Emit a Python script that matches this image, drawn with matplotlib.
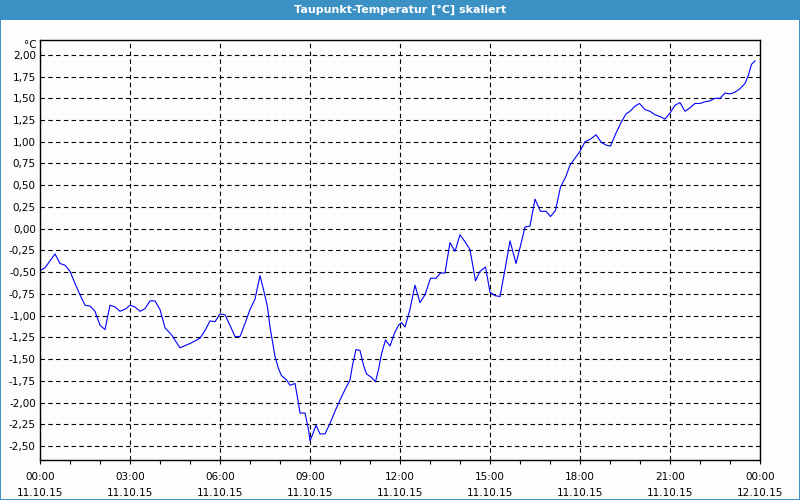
#!/usr/bin/env python3
"""
Taupunkt-Temperatur (dew point) over one day, scaled view.
"""

from datetime import datetime, timedelta
import matplotlib
matplotlib.use("Agg")
import matplotlib.pyplot as plt
import matplotlib.dates as mdates
from matplotlib.patches import Rectangle
from matplotlib.ticker import FuncFormatter, MultipleLocator

TITLE = "Taupunkt-Temperatur [°C] skaliert"
UNIT = "°C"
START = datetime(2015, 10, 11)

# minutes after midnight 11.10.15
minutes = [
    0, 10, 20, 30, 40, 50, 60, 70, 80, 90, 100, 110, 120, 130, 140, 150,
    160, 172, 180, 190, 200, 210, 220, 230, 240, 250, 263, 280, 300, 320,
    330, 340, 350, 360, 370, 383, 390, 400, 410, 420, 430, 440, 447, 455,
    460, 470, 477, 483, 493, 500, 510, 517, 520, 530, 537, 540, 545, 552,
    560, 570, 580, 590, 600, 610, 620, 625, 632, 640, 647, 653, 663, 671,
    677, 683, 691, 700, 709, 717, 723, 730, 739, 750, 760, 770, 781, 792,
    801, 810, 820, 830, 840, 850, 860, 871, 880, 891, 900, 910, 920, 930,
    940, 952, 963, 970, 980, 990, 1001, 1012, 1021, 1031, 1041, 1051, 1060,
    1070, 1080, 1090, 1101, 1112, 1123, 1133, 1141, 1152, 1163, 1172, 1180,
    1190, 1199, 1210, 1220, 1230, 1240, 1250, 1260, 1270, 1280, 1290, 1300,
    1310, 1320, 1330, 1340, 1350, 1360, 1370, 1380, 1390, 1400, 1410, 1417,
    1423, 1430,
]

# dew point in °C
dewpoint = [
    -0.48, -0.45, -0.37, -0.29, -0.40, -0.42, -0.49, -0.63, -0.76, -0.88,
    -0.89, -0.95, -1.11, -1.16, -0.88, -0.90, -0.95, -0.92, -0.88, -0.90,
    -0.95, -0.92, -0.83, -0.83, -0.93, -1.14, -1.22, -1.37, -1.32, -1.26,
    -1.17, -1.06, -1.07, -0.98, -0.99, -1.15, -1.24, -1.24, -1.09, -0.93,
    -0.81, -0.54, -0.70, -0.90, -1.13, -1.47, -1.61, -1.69, -1.74, -1.80,
    -1.78, -2.01, -2.12, -2.12, -2.31, -2.44, -2.37, -2.26, -2.36, -2.36,
    -2.24, -2.10, -1.97, -1.85, -1.74, -1.57, -1.39, -1.40, -1.57, -1.67,
    -1.71, -1.76, -1.62, -1.44, -1.28, -1.35, -1.20, -1.11, -1.08, -1.13,
    -0.95, -0.65, -0.85, -0.76, -0.57, -0.57, -0.51, -0.51, -0.16, -0.26,
    -0.07, -0.15, -0.24, -0.60, -0.49, -0.44, -0.73, -0.77, -0.78, -0.47,
    -0.14, -0.40, -0.15, 0.02, 0.03, 0.34, 0.20, 0.20, 0.14, 0.21,
    0.48, 0.59, 0.73, 0.81, 0.89, 1.00, 1.03, 1.08, 0.99, 0.96,
    0.95, 1.10, 1.23, 1.32, 1.35, 1.41, 1.44, 1.37, 1.35, 1.31,
    1.29, 1.26, 1.33, 1.42, 1.45, 1.35, 1.39, 1.44, 1.44, 1.46,
    1.47, 1.50, 1.50, 1.56, 1.55, 1.57, 1.61, 1.67, 1.77, 1.89,
    1.93,
]

FRAME_BLUE = "#3c91c4"
BG = "#fcfdfc"


def main():
    plt.rcParams["font.family"] = ["DejaVu Sans"]
    times = [START + timedelta(minutes=m) for m in minutes]

    fig = plt.figure(figsize=(8, 5), dpi=100, facecolor=BG)

    # window frame + title bar
    fig.patches.append(Rectangle((0, 0.96), 1, 0.04, transform=fig.transFigure,
                                 facecolor=FRAME_BLUE, edgecolor="none", zorder=0))
    fig.patches.append(Rectangle((0.0006, 0.001), 0.9988, 0.998, transform=fig.transFigure,
                                 facecolor="none", edgecolor=FRAME_BLUE, lw=1.4, zorder=0))
    fig.text(0.5, 0.98, TITLE, color="white", fontsize=8, fontweight="bold",
             ha="center", va="center")

    ax = fig.add_axes([0.05, 0.08, 0.90, 0.84])
    ax.set_facecolor(BG)
    ax.plot(times, dewpoint, color="#0000ff", lw=0.8)

    ax.set_xlim(START, START + timedelta(hours=24))
    ax.set_ylim(-2.66, 2.17)

    ax.xaxis.set_major_locator(mdates.HourLocator(byhour=range(0, 24, 3)))
    ax.xaxis.set_minor_locator(mdates.HourLocator())
    ax.xaxis.set_major_formatter(mdates.DateFormatter("%H:%M\n%d.%m.%y"))
    ax.yaxis.set_major_locator(MultipleLocator(0.25))
    ax.yaxis.set_major_formatter(FuncFormatter(lambda v, p: f"{v:.2f}".replace(".", ",")))

    ax.tick_params(axis="x", which="both", direction="out", length=3, width=0.8,
                   labelsize=7.5, pad=6)
    ax.tick_params(axis="y", length=0, labelsize=7.5, pad=3)
    for lab in ax.get_xticklabels():
        lab.set_linespacing(1.7)

    ax.grid(True, which="major", color="black", lw=0.8, linestyle=(0, (4, 3)))
    for s in ax.spines.values():
        s.set_linewidth(1.0)
        s.set_color("black")

    ax.text(-0.004, 1.0, UNIT, transform=ax.transAxes, ha="right", va="top", fontsize=7.5)

    fig.savefig("out.png", dpi=100, facecolor=BG)
    plt.close(fig)


if __name__ == "__main__":
    main()
